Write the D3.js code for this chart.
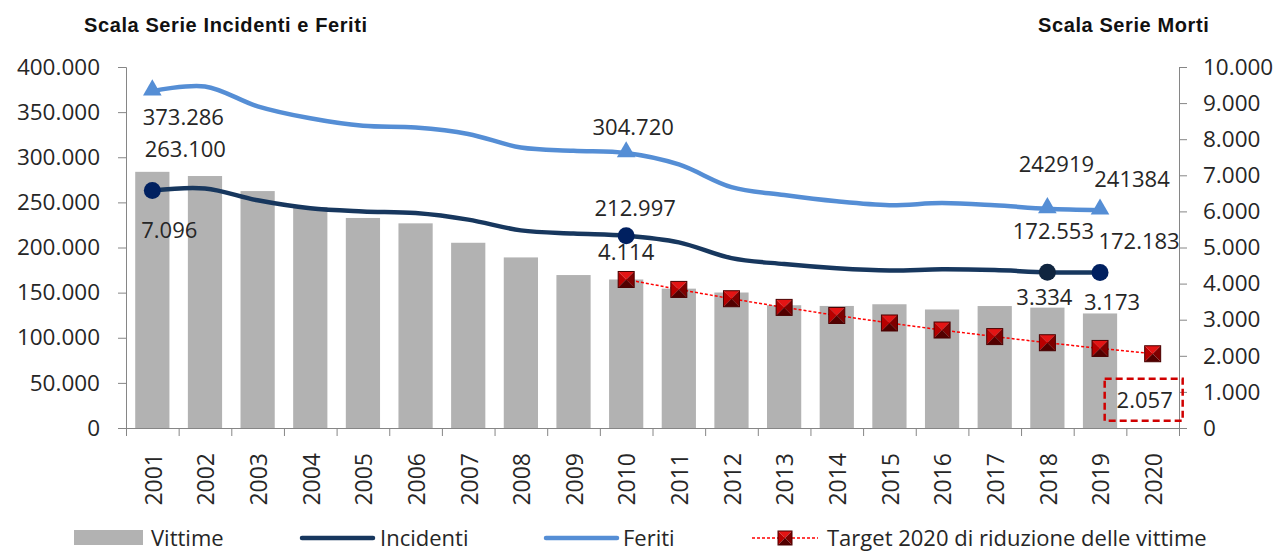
<!DOCTYPE html>
<html>
<head>
<meta charset="utf-8">
<script src="https://cdn.jsdelivr.net/npm/d3@7"></script>
<style>
  body { margin: 0; background: #fff; }
  svg { display: block; }
  text { font-family: "Open Sans", "Liberation Sans", sans-serif; fill: #262626; }
  .title { font-family: "Liberation Sans", Arial, sans-serif; font-weight: bold; font-size: 20px; letter-spacing: 0.6px; fill: #111; }
  .axis path, .axis line { stroke: #868686; }
</style>
</head>
<body>
<div id="chart"></div>
<script>
// anni sull'asse x
var years = ["2001","2002","2003","2004","2005","2006","2007","2008","2009","2010",
             "2011","2012","2013","2014","2015","2016","2017","2018","2019","2020"];

// morti (scala destra), 2001-2019
var vittime = [7096, 6980, 6563, 6122, 5818, 5669, 5131, 4725, 4237, 4114,
               3860, 3753, 3401, 3381, 3428, 3283, 3378, 3334, 3173];

// incidenti e feriti (scala sinistra), 2001-2019
var incidenti = [263100, 265402, 252271, 243490, 240011, 238124, 230871, 218963, 215405, 212997,
                 205638, 188228, 181660, 177031, 174539, 175791, 174933, 172553, 172183];
var feriti = [373286, 378492, 356475, 343179, 334858, 332955, 325850, 310745, 307258, 304720,
              292019, 266864, 258093, 251147, 246920, 249175, 246750, 242919, 241384];

// target di riduzione 2010-2020 (scala destra)
var targetYears = ["2010","2011","2012","2013","2014","2015","2016","2017","2018","2019","2020"];
var target = [4114, 3839, 3581, 3341, 3117, 2909, 2714, 2532, 2362, 2204, 2057];

// anni con marcatore sulle linee
var markerYears = ["2001", "2010", "2018", "2019"];

var leftTicks = [0, 50000, 100000, 150000, 200000, 250000, 300000, 350000, 400000];
var rightTicks = [0, 1000, 2000, 3000, 4000, 5000, 6000, 7000, 8000, 9000, 10000];

var legendNames = ["Vittime", "Incidenti", "Feriti", "Target 2020 di riduzione delle vittime"];

var W = 1280, H = 552;
var plot = {left: 126, right: 1179, top: 67, bottom: 428};

var svg = d3.select("#chart").append("svg")
    .attr("width", W)
    .attr("height", H);

var it = d3.formatLocale({decimal: ",", thousands: ".", grouping: [3], currency: ["€", ""]});
var fmt = it.format(",");

var x = d3.scaleBand()
    .domain(years)
    .range([plot.left, plot.right])
    .paddingInner(0.35)
    .paddingOuter(0.175);
var cx = function(yr) { return x(yr) + x.bandwidth() / 2; };

var yL = d3.scaleLinear().domain([0, 400000]).range([plot.bottom, plot.top]);
var yR = d3.scaleLinear().domain([0, 10000]).range([plot.bottom, plot.top]);

var colBar = "#b2b2b2", colInc = "#17375e", colFer = "#558ed5", colTgt = "#ff0000";

// titoli delle scale
svg.append("text").attr("class", "title").attr("x", 84).attr("y", 32).text("Scala Serie Incidenti e Feriti");
svg.append("text").attr("class", "title").attr("x", 1038).attr("y", 32).text("Scala Serie Morti");

// barre vittime
svg.append("g").selectAll("rect")
    .data(vittime)
    .enter().append("rect")
    .attr("x", function(d, i) { return x(years[i]); })
    .attr("y", function(d) { return yR(d); })
    .attr("width", x.bandwidth())
    .attr("height", function(d) { return plot.bottom - yR(d); })
    .attr("fill", colBar);

// assi
var gL = svg.append("g").attr("class", "axis")
    .attr("transform", "translate(" + plot.left + ",0)")
    .call(d3.axisLeft(yL).tickValues(leftTicks).tickFormat(fmt).tickSizeOuter(0).tickSize(8).tickPadding(18));
gL.selectAll("text").style("font-size", "22.5px").style("font-family", "Open Sans").attr("fill", "#262626");

var gR = svg.append("g").attr("class", "axis")
    .attr("transform", "translate(" + plot.right + ",0)")
    .call(d3.axisRight(yR).tickValues(rightTicks).tickFormat(fmt).tickSizeOuter(0).tickSize(8).tickPadding(16));
gR.selectAll("text").style("font-size", "22.5px").style("font-family", "Open Sans").attr("fill", "#262626");

// tacche dell'asse x ai bordi delle categorie
var xb = d3.scaleLinear().domain([0, years.length]).range([plot.left, plot.right]);
svg.append("g").attr("class", "axis")
    .attr("transform", "translate(0," + plot.bottom + ")")
    .call(d3.axisBottom(xb).ticks(years.length).tickFormat("").tickSizeOuter(0).tickSize(8));

// etichette anni ruotate
var gX = svg.append("g").attr("class", "axis")
    .attr("transform", "translate(0," + plot.bottom + ")")
    .call(d3.axisBottom(x).tickSize(0).tickFormat(function(d) { return d; }));
gX.select(".domain").remove();
gX.selectAll("text")
    .style("font-size", "23px").style("font-family", "Open Sans").attr("fill", "#262626")
    .attr("transform", "rotate(-90)")
    .attr("text-anchor", "end")
    .attr("x", -25)
    .attr("y", 1)
    .attr("dy", "0.36em");

// linee
var curve = d3.curveCatmullRom.alpha(0.5);
var lineL = d3.line()
    .x(function(d, i) { return cx(years[i]); })
    .y(function(d) { return yL(d); })
    .curve(curve);

svg.append("path").datum(feriti)
    .attr("d", lineL).attr("fill", "none")
    .attr("stroke", colFer).attr("stroke-width", 4.5).attr("stroke-linejoin", "round");

svg.append("path").datum(incidenti)
    .attr("d", lineL).attr("fill", "none")
    .attr("stroke", colInc).attr("stroke-width", 4.5).attr("stroke-linejoin", "round");

// target
var lineT = d3.line()
    .x(function(d, i) { return cx(targetYears[i]); })
    .y(function(d) { return yR(d); });
svg.append("path").datum(target)
    .attr("d", lineT).attr("fill", "none")
    .attr("stroke", colTgt).attr("stroke-width", 1.5).attr("stroke-dasharray", "3,2");

function pyramid(g, s) {
  var faces = [
    [[-s, -s], [s, -s], [0, 0], "#e41414"],
    [[-s, -s], [-s, s], [0, 0], "#b80000"],
    [[s, -s], [s, s], [0, 0], "#7e0000"],
    [[-s, s], [s, s], [0, 0], "#520000"]
  ];
  faces.forEach(function(f) {
    g.append("polygon")
      .attr("points", [f[0], f[1], f[2]].map(function(p) { return p.join(","); }).join(" "))
      .attr("fill", f[3]);
  });
  g.append("rect").attr("x", -s).attr("y", -s).attr("width", 2 * s).attr("height", 2 * s)
    .attr("fill", "none").attr("stroke", "#4a0000").attr("stroke-width", 1);
}

svg.append("g").selectAll("g")
    .data(target)
    .enter().append("g")
    .attr("transform", function(d, i) { return "translate(" + cx(targetYears[i]) + "," + yR(d) + ")"; })
    .each(function() { pyramid(d3.select(this), 8); });

// marcatori su feriti (triangoli) e incidenti (cerchi)
var tri = d3.symbol().type(d3.symbolTriangle).size(150);
svg.append("g").selectAll("path")
    .data(markerYears)
    .enter().append("path")
    .attr("d", tri)
    .attr("transform", function(yr) { return "translate(" + cx(yr) + "," + (yL(feriti[years.indexOf(yr)]) - 1) + ")"; })
    .attr("fill", colFer);

svg.append("g").selectAll("circle")
    .data(markerYears)
    .enter().append("circle")
    .attr("cx", function(yr) { return cx(yr); })
    .attr("cy", function(yr) { return yL(incidenti[years.indexOf(yr)]); })
    .attr("r", 8.5)
    .attr("fill", function(yr) { return yr === "2018" ? "#10253f" : "#002060"; });

// etichette dei dati
var labels = [
  {s: "fer", yr: "2001", t: "373.286", dx: 31, dy: 34},
  {s: "fer", yr: "2010", t: "304.720", dx: 7, dy: -18},
  {s: "fer", yr: "2018", t: "242919", dx: 9, dy: -37},
  {s: "fer", yr: "2019", t: "241384", dx: 32, dy: -23},
  {s: "inc", yr: "2001", t: "263.100", dx: 33, dy: -34},
  {s: "inc", yr: "2010", t: "212.997", dx: 9, dy: -20},
  {s: "inc", yr: "2018", t: "172.553", dx: 6, dy: -33},
  {s: "inc", yr: "2019", t: "172.183", dx: 39, dy: -24},
  {s: "vit", yr: "2001", t: "7.096", dx: 17, dy: 66},
  {s: "vit", yr: "2010", t: "4.114", dx: 0, dy: -19},
  {s: "vit", yr: "2018", t: "3.334", dx: -3, dy: -3},
  {s: "vit", yr: "2019", t: "3.173", dx: 12, dy: -3}
];
svg.append("g").selectAll("text")
    .data(labels)
    .enter().append("text")
    .attr("x", function(d) { return cx(d.yr) + d.dx; })
    .attr("y", function(d) {
      var i = years.indexOf(d.yr);
      var v = d.s === "fer" ? yL(feriti[i]) : d.s === "inc" ? yL(incidenti[i]) : yR(vittime[i]);
      return v + d.dy;
    })
    .attr("text-anchor", "middle")
    .style("font-size", "22px")
    .text(function(d) { return d.t; });

// etichetta target 2020 nel riquadro tratteggiato
var tLast = target[target.length - 1], yrLast = targetYears[targetYears.length - 1];
var bx = cx(yrLast) - 48, by = yR(tLast) + 25;
svg.append("rect")
    .attr("x", bx).attr("y", by).attr("width", 78).attr("height", 42)
    .attr("fill", "none").attr("stroke", "#d00000").attr("stroke-width", 2.5)
    .attr("stroke-dasharray", "7,4");
svg.append("text")
    .attr("x", bx + 40).attr("y", by + 29)
    .attr("text-anchor", "middle")
    .style("font-size", "22px")
    .text(fmt(tLast));

// legenda
var lg = svg.append("g").attr("transform", "translate(0,538)");
lg.append("rect").attr("x", 74).attr("y", -8).attr("width", 69).attr("height", 15).attr("fill", colBar);
lg.append("line").attr("x1", 302).attr("x2", 373).attr("y1", 0).attr("y2", 0)
  .attr("stroke", colInc).attr("stroke-width", 4.5).attr("stroke-linecap", "round");
lg.append("line").attr("x1", 546).attr("x2", 617).attr("y1", 0).attr("y2", 0)
  .attr("stroke", colFer).attr("stroke-width", 4.5).attr("stroke-linecap", "round");
lg.append("line").attr("x1", 752).attr("x2", 818).attr("y1", 0).attr("y2", 0)
  .attr("stroke", colTgt).attr("stroke-width", 1.5).attr("stroke-dasharray", "3,2");
pyramid(lg.append("g").attr("transform", "translate(785,0)"), 7);

var legendX = [151, 380, 623, 827];
lg.selectAll("text.leg")
    .data(legendNames)
    .enter().append("text")
    .attr("class", "leg")
    .attr("x", function(d, i) { return legendX[i]; })
    .attr("y", 8)
    .style("font-size", "22px")
    .text(function(d) { return d; });
</script>
</body>
</html>
